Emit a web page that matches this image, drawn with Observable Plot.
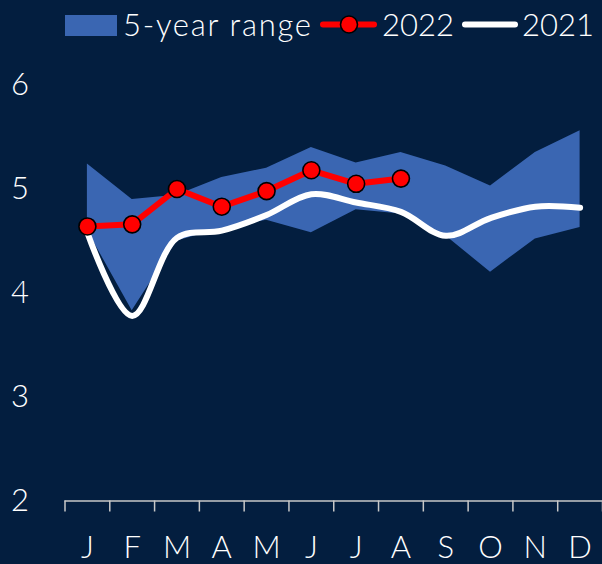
<!DOCTYPE html>
<html><head><meta charset="utf-8">
<script src="https://cdn.jsdelivr.net/npm/d3@7"></script>
<script src="https://cdn.jsdelivr.net/npm/@observablehq/plot@0.6"></script>
<style>
html,body{margin:0;padding:0;background:#031e3f;}
#wrap{width:602px;height:564px;overflow:hidden;background:#031e3f;}
#legend,#chart{display:block;}
svg text{font-weight:300;}
</style></head>
<body><div id="wrap"><svg id="legend" width="602" height="48"></svg><div id="chart"></div></div>
<script>
const months = ["J","F","M","A","M","J","J","A","S","O","N","D"];
const rangeLow  = [4.60, 3.83, 4.50, 4.62, 4.70, 4.58, 4.80, 4.76, 4.55, 4.20, 4.52, 4.63];
const rangeHigh = [5.24, 4.90, 4.94, 5.11, 5.20, 5.40, 5.25, 5.35, 5.22, 5.03, 5.35, 5.56];
const y2021 = [4.58, 3.78, 4.53, 4.60, 4.75, 4.95, 4.87, 4.78, 4.55, 4.72, 4.83, 4.82];
const y2022 = [4.64, 4.66, 5.00, 4.83, 4.98, 5.18, 5.05, 5.10];
const yTicks = [2, 3, 4, 5, 6];
const legendLabels = ["5-year range", "2022", "2021"];

const BG = "#031e3f", BLUE = "#3a66b2", RED = "#ff0000", AXIS = "#c8c8c8";
const FONT = 31;
const FAMILY = "Lato, 'Open Sans', sans-serif";

const rows = months.map((m, i) => ({i, pos: i + 0.5, lo: rangeLow[i], hi: rangeHigh[i], v21: y2021[i]}));
const rows22 = y2022.map((v, i) => ({pos: i + 0.5, v}));

const chart = Plot.plot({
  width: 602,
  height: 516,
  marginTop: 36.5,
  marginBottom: 63.5,
  marginLeft: 64.5,
  marginRight: 0,
  style: {background: "transparent", color: "white", fontFamily: FAMILY, fontSize: FONT + "px", fontWeight: 300},
  x: {domain: [0, 12], label: null},
  y: {domain: [2, 6], label: null},
  marks: [
    Plot.areaY(rows, {x: "pos", y1: "lo", y2: "hi", fill: BLUE, curve: "linear"}),
    Plot.line(rows, {x: "pos", y: "v21", stroke: "white", strokeWidth: 6, curve: "catmull-rom"}),
    Plot.line(rows22, {x: "pos", y: "v", stroke: RED, strokeWidth: 6}),
    Plot.dot(rows22, {x: "pos", y: "v", r: 8.5, fill: RED, stroke: "black", strokeWidth: 1.6}),
    Plot.ruleY([2], {stroke: AXIS, strokeWidth: 1.5}),
    Plot.axisX({ticks: d3.range(13), tickSize: 11, tickFormat: () => "", stroke: AXIS, strokeWidth: 1.5, label: null}),
    Plot.axisX({ticks: months.map((m, i) => i + 0.5), tickSize: 0, tickPadding: 35, tickFormat: d => months[Math.floor(d)], fill: "white", fontSize: FONT, label: null}),
    Plot.axisY({ticks: yTicks, tickSize: 0, tickPadding: 36, tickFormat: d3.format("d"), fill: "white", fontSize: FONT, label: null})
  ]
});
document.getElementById("chart").appendChild(chart);

// Legend
const lg = d3.select("#legend");
const addText = (x, s, len) => {
  const t = lg.append("text").attr("x", x).attr("y", 35.5).attr("fill", "white")
    .attr("font-size", FONT).attr("font-family", FAMILY).attr("font-weight", 300).text(s);
  if (len) t.attr("textLength", len).attr("lengthAdjust", "spacing");
  return t;
};
lg.append("rect").attr("x", 65).attr("y", 15).attr("width", 52).attr("height", 21).attr("fill", BLUE);
addText(123, legendLabels[0], 188);
lg.append("line").attr("x1", 323).attr("x2", 374).attr("y1", 24.5).attr("y2", 24.5).attr("stroke", RED).attr("stroke-width", 6).attr("stroke-linecap", "round");
lg.append("circle").attr("cx", 349).attr("cy", 24.5).attr("r", 8.5).attr("fill", RED).attr("stroke", "black").attr("stroke-width", 1.6);
addText(382, legendLabels[1]);
lg.append("line").attr("x1", 465).attr("x2", 515).attr("y1", 24.5).attr("y2", 24.5).attr("stroke", "white").attr("stroke-width", 6).attr("stroke-linecap", "round");
addText(522, legendLabels[2]);
</script>
</body></html>
